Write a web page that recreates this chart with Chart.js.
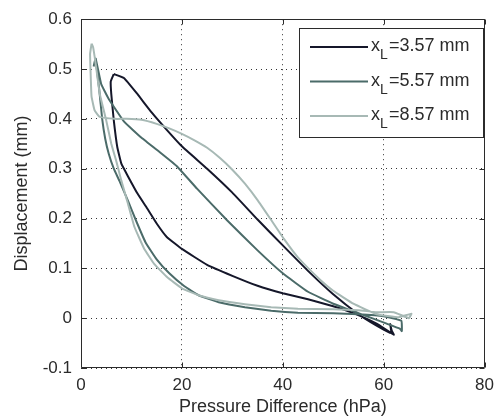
<!DOCTYPE html>
<html lang="en">
<head>
    <meta charset="UTF-8">
    <title>Displacement vs pressure difference</title>
    <script src="https://cdn.jsdelivr.net/npm/chart.js"></script>
    <style>
        html, body {
            margin: 0;
            padding: 0;
            background: #ffffff;
        }

        .chart-box {
            position: relative;
            width: 501px;
            height: 418px;
        }
    </style>
</head>
<body>

    <div class="chart-box">
        <canvas id="myChart" width="501" height="418"></canvas>
    </div>

    <script>
        // 凡例
        var seriesNames = ['3.57 mm', '5.57 mm', '8.57 mm'];
        var seriesColors = ['#15172a', '#4b6b69', '#a7b9b5'];

        // x_L = 3.57 mm
        var press1 = [6.5, 8.5, 11.0, 14.0, 17.0, 20.0, 25.0, 30.0, 35.0, 40.0, 45.0, 50.0, 55.0, 58.6, 61.5, 61.3, 61.6, 62.0,
                      58.6, 54.0, 50.0, 45.0, 40.0, 35.0, 30.0, 25.0, 20.0, 17.0, 15.0, 13.0, 11.2, 9.3, 8.0, 7.2, 6.5, 6.0, 5.9, 6.5];
        var disp1 = [0.490, 0.482, 0.452, 0.413, 0.378, 0.345, 0.300, 0.252, 0.198, 0.146, 0.095, 0.048, 0.008, -0.015, -0.030, -0.012, -0.025, -0.033,
                     -0.011, 0.010, 0.024, 0.038, 0.050, 0.065, 0.085, 0.107, 0.139, 0.163, 0.190, 0.222, 0.250, 0.285, 0.310, 0.343, 0.397, 0.450, 0.475, 0.490];

        // x_L = 5.57 mm
        var press2 = [2.5, 2.9, 4.0, 5.5, 8.5, 12.0, 16.0, 19.0, 23.0, 29.0, 35.0, 40.0, 45.0, 50.0, 55.0, 60.6, 63.2, 63.6, 63.5,
                      60.0, 55.0, 50.0, 43.0, 37.7, 32.5, 27.3, 23.3, 20.5, 17.5, 15.0, 12.8, 10.9, 9.3, 7.6, 6.5, 5.5, 4.8, 4.2, 3.6, 2.9];
        var disp2 = [0.505, 0.521, 0.470, 0.440, 0.395, 0.362, 0.330, 0.305, 0.260, 0.196, 0.136, 0.090, 0.053, 0.029, 0.010, -0.011, -0.021, -0.026, -0.005,
                     0.004, 0.008, 0.010, 0.011, 0.015, 0.022, 0.032, 0.046, 0.064, 0.090, 0.118, 0.152, 0.196, 0.236, 0.276, 0.300, 0.330, 0.360, 0.400, 0.460, 0.521];

        // x_L = 8.57 mm
        var press3 = [2.1, 1.8, 2.0, 2.1, 2.7, 3.7, 6.7, 9.0, 12.0, 15.0, 17.5, 20.0, 22.5, 25.0, 27.5, 30.0, 32.5, 35.0, 37.5, 40.3, 43.0, 47.5, 50.0, 54.0, 58.6, 63.0, 65.5, 65.0,
                      62.0, 58.6, 55.0, 50.0, 43.0, 37.7, 32.5, 27.3, 23.3, 20.0, 17.1, 14.5, 12.5, 10.6, 9.3, 8.0, 7.0, 6.0, 5.0, 3.7, 2.9, 2.4, 2.1];
        var disp3 = [0.551, 0.530, 0.464, 0.444, 0.417, 0.404, 0.400, 0.400, 0.398, 0.390, 0.381, 0.370, 0.357, 0.342, 0.322, 0.298, 0.270, 0.237, 0.200, 0.158, 0.122, 0.076, 0.055, 0.029, 0.008, 0.002, 0.009, 0.000,
                     0.012, 0.012, 0.016, 0.018, 0.019, 0.022, 0.028, 0.036, 0.046, 0.060, 0.082, 0.109, 0.140, 0.183, 0.230, 0.276, 0.315, 0.350, 0.397, 0.451, 0.511, 0.544, 0.551];

        var xTicks = [0, 20, 40, 60, 80];
        var yTicks = [-0.1, 0, 0.1, 0.2, 0.3, 0.4, 0.5, 0.6];

        var textColor = '#2b2b2b';
        var fontName = '"Liberation Sans", Arial, sans-serif';

        function toPoints(xs, ys) {
            return xs.map(function (x, i) { return { x: x, y: ys[i] }; });
        }

        // 枠と内向きの目盛り
        var framePlugin = {
            id: 'frame',
            afterDraw: function (chart) {
                var ctx = chart.ctx;
                var a = chart.chartArea;
                var sx = chart.scales.x;
                var sy = chart.scales.y;
                var l = Math.round(a.left) + 0.5, r = Math.round(a.right) - 0.5;
                var t = Math.round(a.top) + 0.5, b = Math.round(a.bottom) - 0.5;
                ctx.save();
                ctx.strokeStyle = textColor;
                ctx.lineWidth = 1;
                ctx.beginPath();
                ctx.rect(l, t, r - l, b - t);
                xTicks.forEach(function (v) {
                    var px = Math.round(sx.getPixelForValue(v)) + 0.5;
                    ctx.moveTo(px, b); ctx.lineTo(px, b - 5);
                    ctx.moveTo(px, t); ctx.lineTo(px, t + 5);
                });
                yTicks.forEach(function (v) {
                    var py = Math.round(sy.getPixelForValue(v)) + 0.5;
                    ctx.moveTo(l, py); ctx.lineTo(l + 5, py);
                    ctx.moveTo(r, py); ctx.lineTo(r - 5, py);
                });
                ctx.stroke();
                ctx.restore();
            }
        };

        // 凡例（x_L の下付き文字付き）
        var legendPlugin = {
            id: 'boxLegend',
            afterDraw: function (chart) {
                var ctx = chart.ctx;
                var bx = 299.5, by = 28.5, bw = 184, bh = 109;
                ctx.save();
                ctx.fillStyle = '#ffffff';
                ctx.fillRect(bx, by, bw, bh);
                ctx.strokeStyle = textColor;
                ctx.lineWidth = 1;
                ctx.strokeRect(bx, by, bw, bh);
                seriesNames.forEach(function (name, i) {
                    var ly = 47 + i * 34.5;
                    ctx.strokeStyle = seriesColors[i];
                    ctx.lineWidth = 2;
                    ctx.beginPath();
                    ctx.moveTo(310, ly);
                    ctx.lineTo(368, ly);
                    ctx.stroke();
                    ctx.fillStyle = textColor;
                    ctx.textBaseline = 'alphabetic';
                    ctx.textAlign = 'left';
                    ctx.font = '18px ' + fontName;
                    ctx.fillText('x', 371, ly + 4);
                    ctx.font = '14px ' + fontName;
                    ctx.fillText('L', 380, ly + 12);
                    ctx.font = '18px ' + fontName;
                    ctx.fillText('=' + name, 389, ly + 4);
                });
                ctx.restore();
            }
        };

        var ctx = document.getElementById('myChart').getContext('2d');
        var myChart = new Chart(ctx, {
            type: 'scatter',
            data: {
                datasets: [
                    { label: 'x_L=' + seriesNames[0], data: toPoints(press1, disp1), borderColor: seriesColors[0] },
                    { label: 'x_L=' + seriesNames[1], data: toPoints(press2, disp2), borderColor: seriesColors[1] },
                    { label: 'x_L=' + seriesNames[2], data: toPoints(press3, disp3), borderColor: seriesColors[2] }
                ].map(function (d) {
                    d.showLine = true;
                    d.borderWidth = 2;
                    d.pointRadius = 0;
                    d.tension = 0.1;
                    d.fill = false;
                    return d;
                }).reverse()
            },
            options: {
                responsive: false,
                animation: false,
                layout: {
                    padding: { left: 0, top: 19, right: 11, bottom: 0 }
                },
                plugins: {
                    legend: { display: false },
                    tooltip: { enabled: false }
                },
                scales: {
                    x: {
                        type: 'linear',
                        min: 0,
                        max: 80,
                        afterFit: function (scale) { scale.height = 50; },
                        ticks: {
                            stepSize: 20,
                            padding: 7,
                            color: textColor,
                            font: { family: fontName, size: 17 }
                        },
                        grid: { color: '#333333', lineWidth: 1, drawTicks: false },
                        border: { display: false, dash: [1, 4] },
                        title: {
                            display: true,
                            text: 'Pressure Difference (hPa)',
                            color: textColor,
                            font: { family: fontName, size: 18 },
                            padding: { top: 0, bottom: 0 }
                        }
                    },
                    y: {
                        type: 'linear',
                        min: -0.1,
                        max: 0.6,
                        afterFit: function (scale) { scale.width = 81; },
                        ticks: {
                            stepSize: 0.1,
                            padding: 9,
                            color: textColor,
                            font: { family: fontName, size: 17 },
                            callback: function (v) { return String(Math.round(v * 10) / 10); }
                        },
                        grid: { color: '#333333', lineWidth: 1, drawTicks: false },
                        border: { display: false, dash: [1, 4] },
                        title: {
                            display: true,
                            text: 'Displacement (mm)',
                            color: textColor,
                            font: { family: fontName, size: 18 },
                            padding: { top: 11, bottom: 0 }
                        }
                    }
                }
            },
            plugins: [framePlugin, legendPlugin]
        });
    </script>

</body>
</html>
